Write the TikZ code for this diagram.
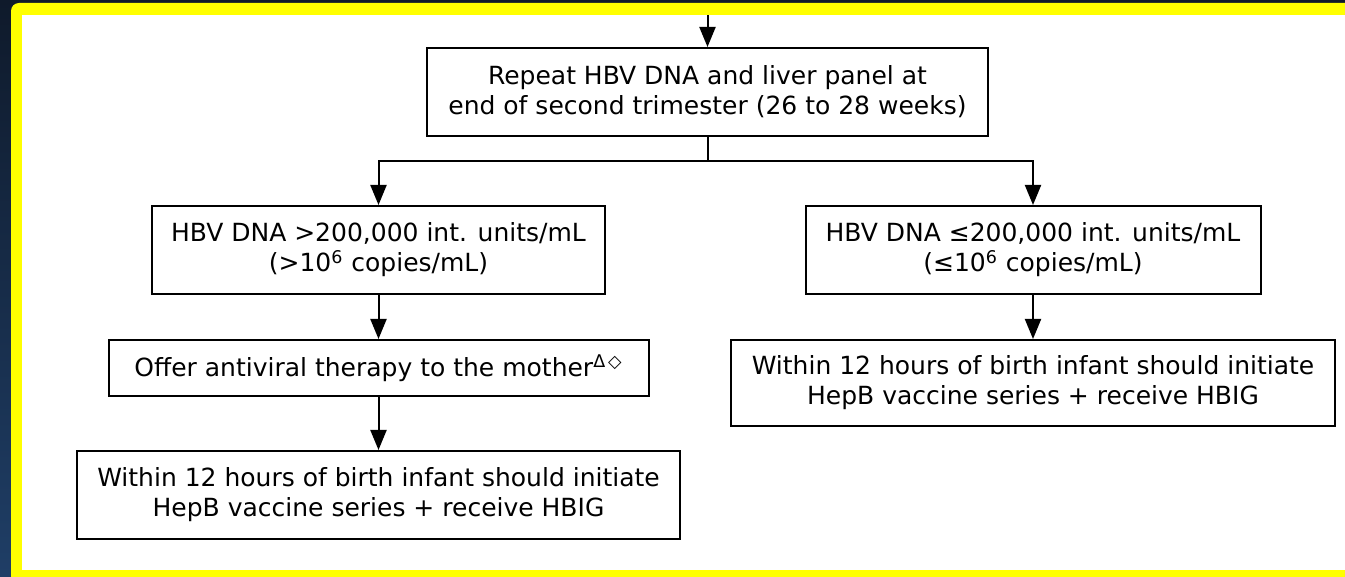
\documentclass[tikz,border=0pt]{standalone}
\usepackage{fontspec}
\setmainfont{DejaVu Sans}
\usetikzlibrary{arrows.meta}
\definecolor{navytop}{HTML}{0F1A2B}
\definecolor{navybot}{HTML}{1F3E66}
\definecolor{frameyellow}{HTML}{FFFF00}
\begin{document}
\begin{tikzpicture}[x=0.5pt,y=-0.5pt,
  box/.style={draw,line width=1pt,align=center,inner sep=0pt,
    font=\fontsize{12.5}{15}\selectfont},
  arr/.style={line width=1pt,-{Triangle[length=10pt,width=8pt]}}]
\useasboundingbox (0,0) rectangle (1345,577);
% backdrop and yellow frame
\shade[top color=navytop,bottom color=navybot] (0,0) rectangle (1345,577);
\fill[frameyellow,rounded corners=4pt] (11,3) rectangle (1380,600);
\fill[white] (22,15) rectangle (1380,570);
% boxes
\node[box,minimum width=280.5pt,minimum height=44pt] (rpt) at (707.5,92)
  {Repeat HBV DNA and liver panel at\\end of second trimester (26 to 28 weeks)};
\node[box,minimum width=226.5pt,minimum height=44pt] (hi) at (378.5,250)
  {HBV DNA >200,000 int. units/mL\\(>10\textsuperscript{6} copies/mL)};
\node[box,minimum width=227.5pt,minimum height=44pt] (lo) at (1033,250)
  {HBV DNA ≤200,000 int. units/mL\\(≤10\textsuperscript{6} copies/mL)};
\node[box,minimum width=270pt,minimum height=28pt] (anti) at (378.5,368)
  {Offer antiviral therapy to the mother\textsuperscript{Δ\,◇}};
\node[box,minimum width=301.5pt,minimum height=44pt] (infL) at (378.5,495)
  {Within 12 hours of birth infant should initiate\\HepB vaccine series + receive HBIG};
\node[box,minimum width=302pt,minimum height=43pt] (infR) at (1033,383)
  {Within 12 hours of birth infant should initiate\\HepB vaccine series + receive HBIG};
% connectors
\coordinate (in) at (707.5,15);
\coordinate (fork) at (707.5,161);
\draw[arr] (in) -- (rpt.north);
\draw[arr] (rpt.south) -- (fork) -| (hi.north);
\draw[arr] (fork) -| (lo.north);
\draw[arr] (hi.south) -- (anti.north);
\draw[arr] (anti.south) -- (infL.north);
\draw[arr] (lo.south) -- (infR.north);
\end{tikzpicture}
\end{document}
